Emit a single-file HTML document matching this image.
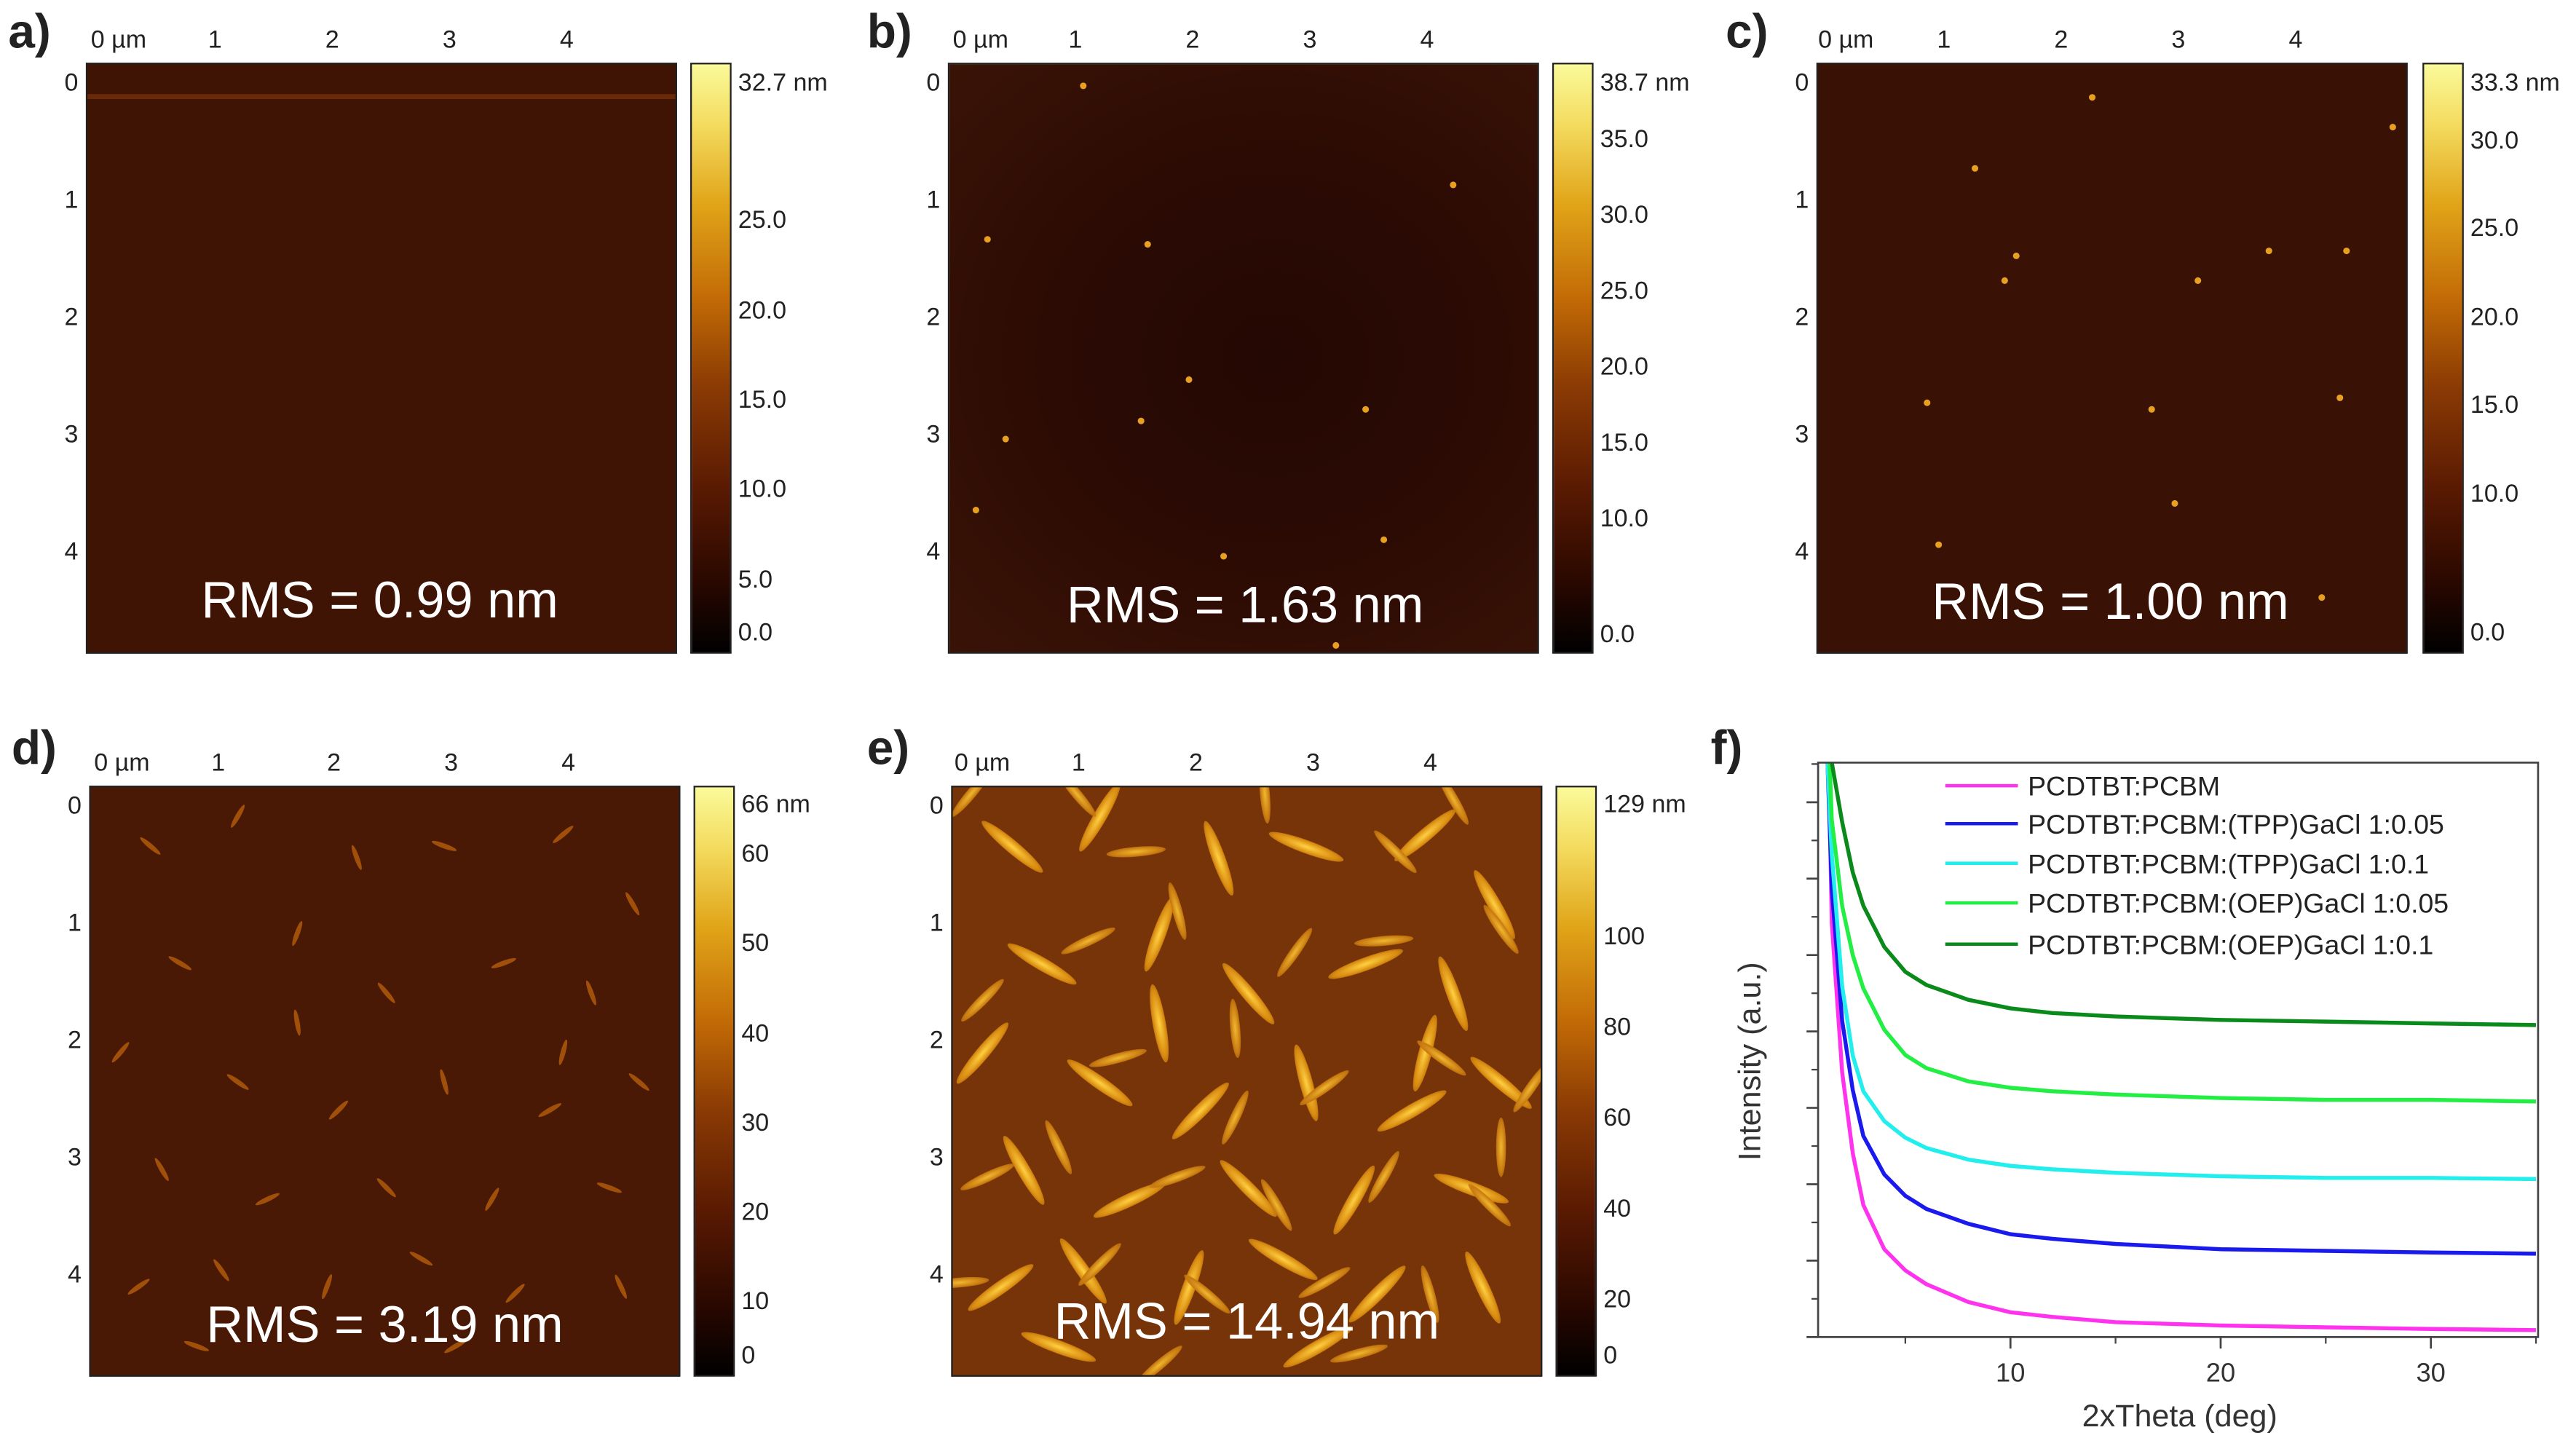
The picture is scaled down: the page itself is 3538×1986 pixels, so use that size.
<!DOCTYPE html>
<html><head><meta charset="utf-8">
<style>
html,body{margin:0;padding:0;background:#fff;}
body{width:3538px;height:1986px;overflow:hidden;}
#root{position:absolute;left:0;top:0;width:1560px;height:876px;transform:scale(2.268,2.2671);transform-origin:0 0;font-family:"Liberation Sans",sans-serif;color:#222;}
.img{position:absolute;border:1.5px solid #222;box-sizing:border-box;overflow:hidden;}
.cbar{position:absolute;width:25px;border:1.5px solid #222;box-sizing:border-box;background:linear-gradient(to top,#000 0%,#2a0800 12%,#5a1a02 28%,#8a3a04 45%,#c26a06 60%,#e0a418 76%,#f4dc60 90%,#fafa9a 100%);}
.t{position:absolute;font-size:15px;line-height:1;white-space:nowrap;}
.lbl{position:absolute;font-size:29px;font-weight:bold;line-height:1;}
.rms{position:absolute;font-size:31px;color:#fff;line-height:1;white-space:nowrap;transform:translateX(-50%);}
svg text{font-family:"Liberation Sans",sans-serif;}
</style></head><body>
<div id="root"></div>
<script>
// ---- XRD chart data (panel f) ----
const xrdTheta=[1.3,1.5,2,2.5,3,4,5,6,8,10,12,15,20,25,30,35];
const pcbm=[110,72,46,32,23,15.3,11.6,9.2,6.1,4.3,3.5,2.6,2.0,1.7,1.4,1.2];
const tpp005=[100,78,55,43,35,28.3,24.6,22.3,19.7,17.9,17.1,16.2,15.3,15.0,14.7,14.5];
const tpp01=[100,84,61,49,42.8,37.6,34.7,32.9,30.9,29.8,29.2,28.6,28.0,27.7,27.7,27.5];
const oep005=[110,90,75,66.5,60.7,53.5,49.1,46.8,44.5,43.4,42.8,42.2,41.6,41.3,41.3,41.0];
const oep01=[120,100,89.6,80.9,75.1,67.9,63.6,61.3,58.7,57.2,56.4,55.8,55.2,54.9,54.6,54.3];
const seriesNames=["PCDTBT:PCBM","PCDTBT:PCBM:(TPP)GaCl 1:0.05","PCDTBT:PCBM:(TPP)GaCl 1:0.1","PCDTBT:PCBM:(OEP)GaCl 1:0.05","PCDTBT:PCBM:(OEP)GaCl 1:0.1"];
const seriesColors=["#ff33ee","#1a1aee","#22eeee","#22ee44","#0a8a1a"];
const xTickLabels=[10,20,30];
const xMinorTicks=[5,15,25,35];
const yTicks=[0,13.3,26.6,39.9,53.2,66.5,79.8,93.1];

const root=document.getElementById('root');
function add(html){root.insertAdjacentHTML('beforeend',html);}

const panels=[
 {id:'a',x:52,y:38,cb:418,lx:5,ly:6,bg:'#3f1405',top:[55,130,201,272,343],left:43,ty:17,cbl:[['32.7 nm',43],['25.0',126],['20.0',181],['15.0',235],['10.0',289],['5.0',344],['0.0',376]],rms:'RMS = 0.99 nm',rx:230,ry:348},
 {id:'b',x:574,y:38,cb:940,lx:525,ly:6,bg:'radial-gradient(ellipse at 55% 50%,#240803 0%,#2c0b04 50%,#3a1306 100%)',top:[577,651,722,793,864],left:565,ty:17,cbl:[['38.7 nm',43],['35.0',77],['30.0',123],['25.0',169],['20.0',215],['15.0',261],['10.0',307],['0.0',377]],rms:'RMS = 1.63 nm',rx:754,ry:351},
 {id:'c',x:1100,y:38,cb:1467,lx:1045,ly:6,bg:'#3a1205',top:[1101,1177,1248,1319,1390],left:1091,ty:17,cbl:[['33.3 nm',43],['30.0',78],['25.0',131],['20.0',185],['15.0',238],['10.0',292],['0.0',376]],rms:'RMS = 1.00 nm',rx:1278,ry:349},
 {id:'d',x:54,y:476,cb:420,lx:7,ly:440,bg:'#4a1906',top:[57,132,202,273,344],left:45,ty:455,cbl:[['66 nm',480],['60',510],['50',564],['40',619],['30',673],['20',727],['10',781],['0',814]],rms:'RMS = 3.19 nm',rx:233,ry:787},
 {id:'e',x:576,y:476,cb:942,lx:525,ly:440,bg:'#763408',top:[578,653,724,795,866],left:567,ty:455,cbl:[['129 nm',480],['100',560],['80',615],['60',670],['40',725],['20',780],['0',814]],rms:'RMS = 14.94 nm',rx:755,ry:785}
];
const streaks=[[.1,.1,40],[.25,.05,-60],[.45,.12,70],[.6,.1,20],[.8,.08,-40],[.92,.2,60],[.15,.3,30],[.35,.25,-70],[.5,.35,50],[.7,.3,-20],[.85,.35,70],[.05,.45,-50],[.25,.5,35],[.42,.55,-45],[.6,.5,75],[.78,.55,-30],[.93,.5,40],[.12,.65,60],[.3,.7,-25],[.5,.68,45],[.68,.7,-60],[.88,.68,20],[.08,.85,-35],[.22,.82,55],[.4,.85,-70],[.56,.8,30],[.72,.86,-45],[.9,.85,65],[.18,.95,20],[.62,.95,-30],[.35,.4,80],[.8,.45,-75]];
const dotsB=[[.22,.03],[.33,.3],[.32,.6],[.04,.75],[.46,.83],[.73,.8],[.85,.2],[.06,.29],[.4,.53],[.7,.58],[.09,.63],[.65,.98]];
const dotsC=[[.26,.17],[.33,.32],[.31,.36],[.64,.36],[.97,.1],[.46,.05],[.76,.31],[.89,.31],[.18,.57],[.56,.58],[.88,.56],[.6,.74],[.2,.81],[.85,.9]];
panels.forEach(p=>{
  add(`<div class="lbl" style="left:${p.lx}px;top:${p.ly}px">${p.id})</div>`);
  let inner='';
  if(p.id==='e'){
    streaks.forEach(s=>{inner+=`<div style="position:absolute;left:${s[0]*357-24}px;top:${s[1]*357-4}px;width:48px;height:8px;border-radius:50%;background:radial-gradient(#ffd040,#d88a10 60%,rgba(200,110,10,0) 100%);transform:rotate(${s[2]}deg)"></div>`;});
    streaks.forEach(s=>{inner+=`<div style="position:absolute;left:${((s[0]+.13)%1)*357-18}px;top:${((s[1]+.16)%1)*357-3}px;width:36px;height:6px;border-radius:50%;background:radial-gradient(#f0b830,#c87a10 60%,rgba(200,110,10,0) 100%);transform:rotate(${-s[2]+15}deg)"></div>`;});
  }
  if(p.id==='d'){streaks.forEach(s=>{inner+=`<div style="position:absolute;left:${s[0]*357-8}px;top:${s[1]*357-2}px;width:16px;height:3px;border-radius:50%;background:#a05008;transform:rotate(${s[2]}deg)"></div>`;});}
  if(p.id==='a'){inner+=`<div style="position:absolute;left:0;top:18px;width:100%;height:3px;background:#6a2a08"></div>`;}
  if(p.id==='b'){dotsB.forEach(d=>{inner+=`<div style="position:absolute;left:${d[0]*357}px;top:${d[1]*357}px;width:4px;height:4px;border-radius:50%;background:#e8a020"></div>`;});}
  if(p.id==='c'){dotsC.forEach(d=>{inner+=`<div style="position:absolute;left:${d[0]*357}px;top:${d[1]*357}px;width:4px;height:4px;border-radius:50%;background:#e8a020"></div>`;});}
  add(`<div class="img" style="left:${p.x}px;top:${p.y}px;width:358px;height:358px;background:${p.bg}">${inner}</div>`);
  add(`<div class="cbar" style="left:${p.cb}px;top:${p.y}px;height:358px"></div>`);
  const tl=['0 µm','1','2','3','4'];
  p.top.forEach((x,i)=>add(`<div class="t" style="left:${x-(i?4:0)}px;top:${p.ty}px">${tl[i]}</div>`));
  [0,1,2,3,4].forEach(i=>add(`<div class="t" style="left:${p.left-4}px;top:${p.y+5+i*71}px">${i}</div>`));
  p.cbl.forEach((c,i)=>add(`<div class="t" style="left:${p.cb+29}px;top:${c[1]}px">${c[0]}</div>`));
  add(`<div class="rms" style="left:${p.rx}px;top:${p.ry}px">${p.rms}</div>`);
});
add(`<div class="lbl" style="left:1036px;top:440px">f)</div>`);

const L=1101,R=1537,T=462,B=810;
const xMin=0.85,xMax=35.1,yMax=100;
const xs=v=>L+(v-xMin)/(xMax-xMin)*(R-L);
const ys=v=>B-v/yMax*(B-T);
const NS='http://www.w3.org/2000/svg';
const svg=document.createElementNS(NS,'svg');
svg.setAttribute('width','1560');svg.setAttribute('height','876');
svg.setAttribute('style','position:absolute;left:0;top:0');


root.appendChild(svg);
function el(tag,attrs,parent){const e=document.createElementNS(NS,tag);for(const k in attrs)e.setAttribute(k,attrs[k]);(parent||svg).appendChild(e);return e;}
const defs=el('defs',{});
const cp=el('clipPath',{id:'plotclip'},defs);
el('rect',{x:L,y:T,width:R-L,height:B-T},cp);
const series=[pcbm,tpp005,tpp01,oep005,oep01];
const g=el('g',{'clip-path':'url(#plotclip)'});
series.forEach((s,i)=>{
  const d=s.map((v,j)=>(j?'L':'M')+xs(xrdTheta[j]).toFixed(1)+','+ys(v).toFixed(1)).join(' ');
  const path=el('path',{d:d,fill:'none',stroke:seriesColors[i],'stroke-width':'2.4','stroke-linejoin':'round'},g);
  
  
});
const frame=el('rect',{x:L,y:T,width:R-L,height:B-T,fill:'none',stroke:'#444','stroke-width':'1.2'});


xTickLabels.forEach(v=>{
  el('line',{x1:xs(v),x2:xs(v),y1:B,y2:B+7,stroke:'#444','stroke-width':'1.2'});
  const t=el('text',{x:xs(v),y:B+27,'font-size':'16','text-anchor':'middle',fill:'#333'});
  t.textContent=v;
  
  
});
xMinorTicks.forEach(v=>el('line',{x1:xs(v),x2:xs(v),y1:B,y2:B+4,stroke:'#444','stroke-width':'1'}));
yTicks.forEach((v,i)=>{
  el('line',{x1:L-7,x2:L,y1:ys(v),y2:ys(v),stroke:'#444','stroke-width':'1.2'});
  const m=v+6.65; if(m<yMax) el('line',{x1:L-4,x2:L,y1:ys(m),y2:ys(m),stroke:'#444','stroke-width':'1'});
});
const xl=el('text',{x:1320,y:864,'font-size':'19','text-anchor':'middle',fill:'#333'});
xl.textContent='2xTheta (deg)';


const yl=el('text',{x:1066,y:643,'font-size':'19','text-anchor':'middle',fill:'#333',transform:'rotate(-90 1066 643)'});
yl.textContent='Intensity (a.u.)';


const legY=[476,499,523,547,572];
seriesNames.forEach((n,i)=>{
  const lg=el('g',{});
  
  
  el('line',{x1:1178,x2:1222,y1:legY[i],y2:legY[i],stroke:seriesColors[i],'stroke-width':'2'},lg);
  const t=el('text',{x:1228,y:legY[i]+6,'font-size':'16.5',fill:'#222'},lg);
  t.textContent=n;
});
</script>
</body></html>
